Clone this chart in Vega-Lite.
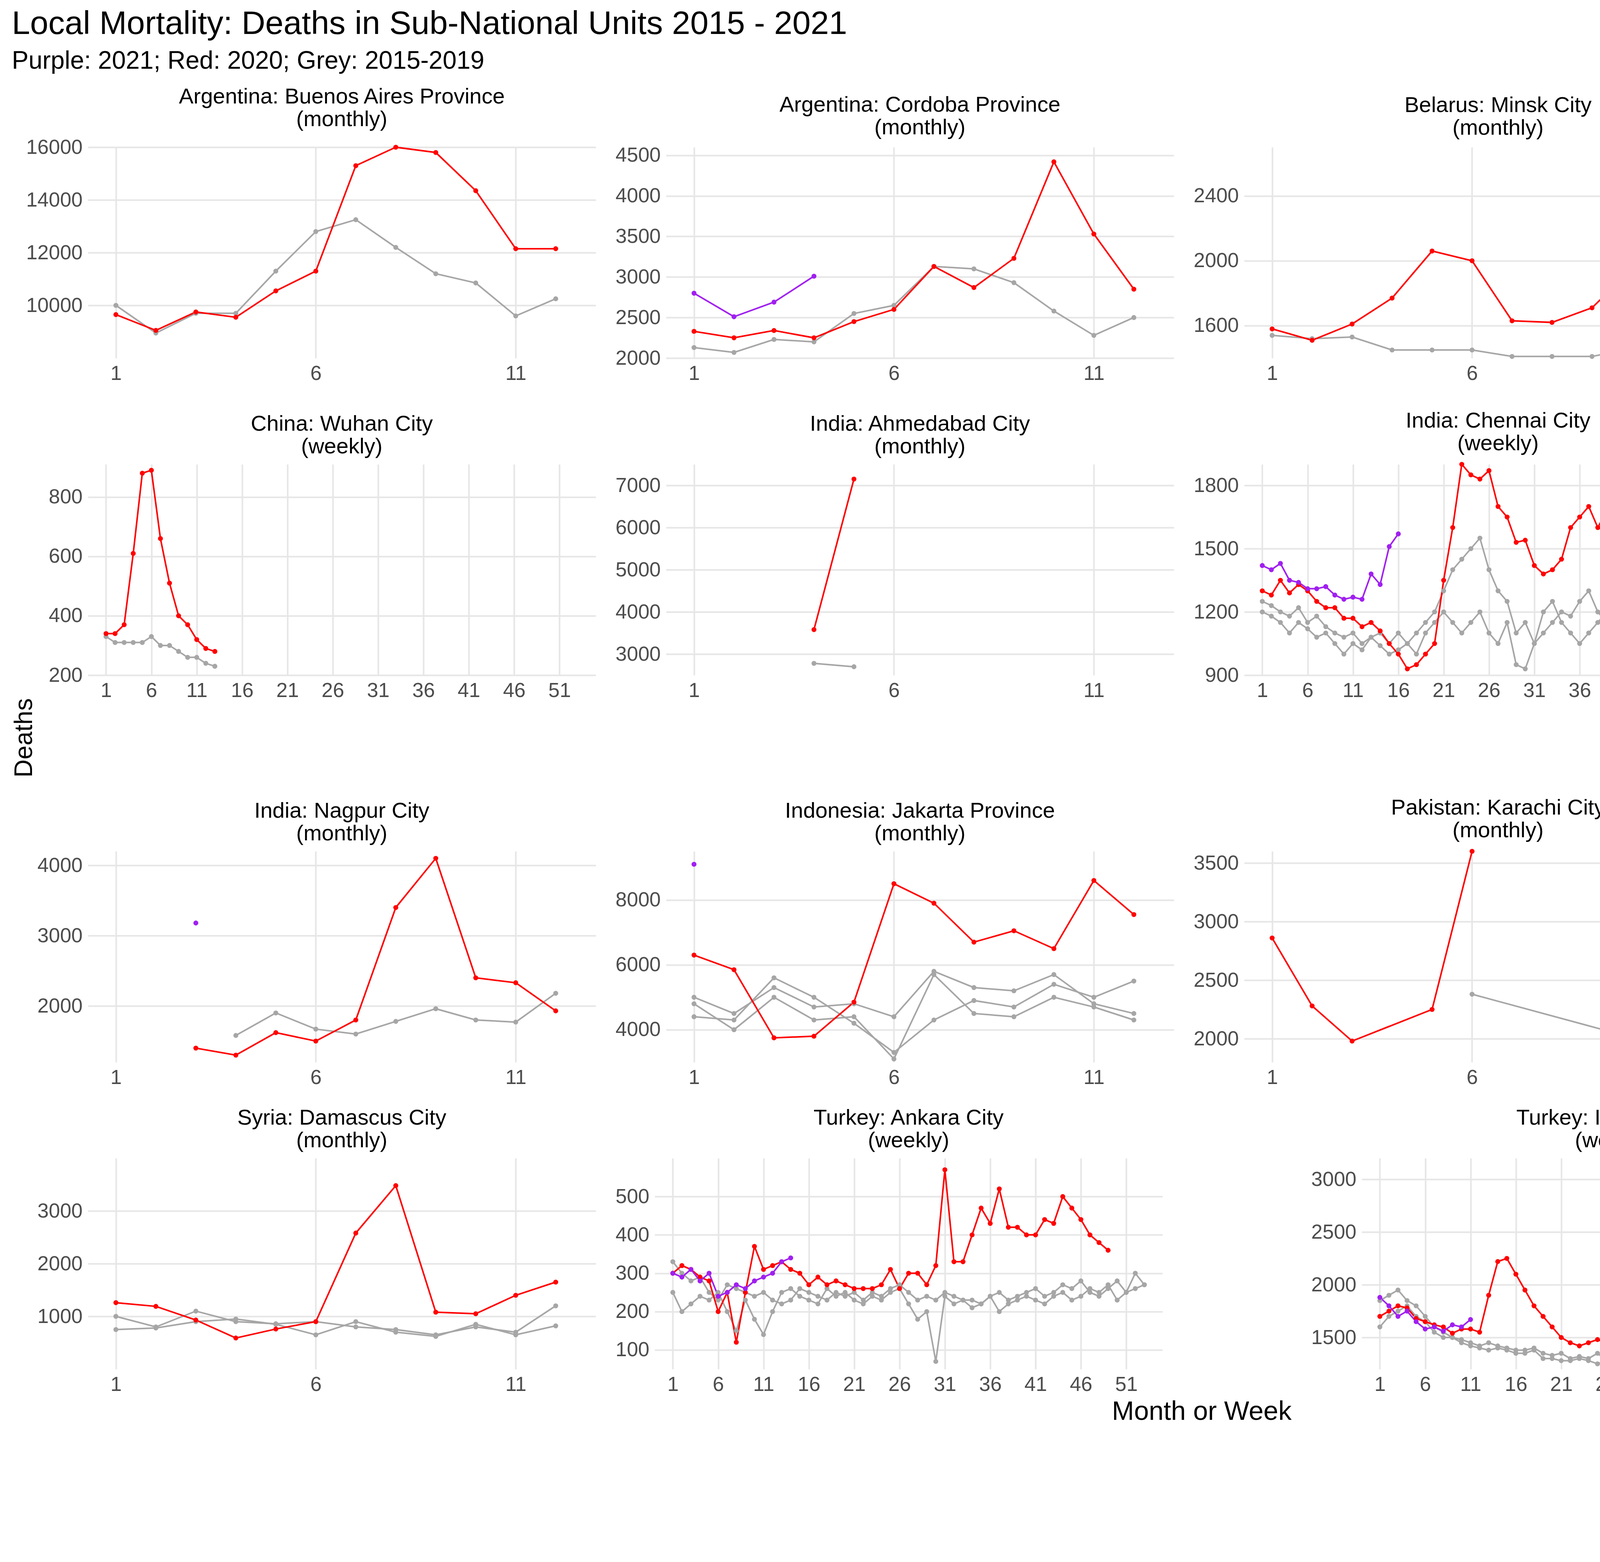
{
"$schema":"https://vega.github.io/schema/vega-lite/v6.json",
"background":"white",
"padding":{"left":30,"top":20,"right":30,"bottom":20},
"title":{"text":"Local Mortality: Deaths in Sub-National Units 2015 - 2021","subtitle":"Purple: 2021; Red: 2020; Grey: 2015-2019","anchor":"start","fontSize":84,"subtitleFontSize":64,"font":"Liberation Sans","subtitleFont":"Liberation Sans","fontWeight":"normal","subtitlePadding":20,"offset":30},
"config":{"font":"Liberation Sans","view":{"stroke":null},
 "axis":{"labelFontSize":52,"labelColor":"#4d4d4d","domain":false,"ticks":false,"gridColor":"#e6e6e6","gridWidth":4,"labelPadding":14,"title":null,"format":"d"},
 "title":{"fontSize":56,"fontWeight":"normal","offset":16},
 "concat":{"spacing":50}},
"datasets":{"d":[
{"p":1,"g":"a","x":1,"y":10000},{"p":1,"g":"a","x":2,"y":8950},{"p":1,"g":"a","x":3,"y":9700},{"p":1,"g":"a","x":4,"y":9700},{"p":1,"g":"a","x":5,"y":11300},{"p":1,"g":"a","x":6,"y":12800},{"p":1,"g":"a","x":7,"y":13250},{"p":1,"g":"a","x":8,"y":12200},{"p":1,"g":"a","x":9,"y":11200},{"p":1,"g":"a","x":10,"y":10850},{"p":1,"g":"a","x":11,"y":9600},{"p":1,"g":"a","x":12,"y":10250},
{"p":1,"g":"r","x":1,"y":9650},{"p":1,"g":"r","x":2,"y":9050},{"p":1,"g":"r","x":3,"y":9750},{"p":1,"g":"r","x":4,"y":9550},{"p":1,"g":"r","x":5,"y":10550},{"p":1,"g":"r","x":6,"y":11300},{"p":1,"g":"r","x":7,"y":15300},{"p":1,"g":"r","x":8,"y":16000},{"p":1,"g":"r","x":9,"y":15800},{"p":1,"g":"r","x":10,"y":14350},{"p":1,"g":"r","x":11,"y":12150},{"p":1,"g":"r","x":12,"y":12150},
{"p":2,"g":"a","x":1,"y":2130},{"p":2,"g":"a","x":2,"y":2070},{"p":2,"g":"a","x":3,"y":2230},{"p":2,"g":"a","x":4,"y":2200},{"p":2,"g":"a","x":5,"y":2550},{"p":2,"g":"a","x":6,"y":2650},{"p":2,"g":"a","x":7,"y":3130},{"p":2,"g":"a","x":8,"y":3100},{"p":2,"g":"a","x":9,"y":2930},{"p":2,"g":"a","x":10,"y":2580},{"p":2,"g":"a","x":11,"y":2280},{"p":2,"g":"a","x":12,"y":2500},
{"p":2,"g":"r","x":1,"y":2330},{"p":2,"g":"r","x":2,"y":2250},{"p":2,"g":"r","x":3,"y":2340},{"p":2,"g":"r","x":4,"y":2250},{"p":2,"g":"r","x":5,"y":2450},{"p":2,"g":"r","x":6,"y":2600},{"p":2,"g":"r","x":7,"y":3130},{"p":2,"g":"r","x":8,"y":2870},{"p":2,"g":"r","x":9,"y":3230},{"p":2,"g":"r","x":10,"y":4420},{"p":2,"g":"r","x":11,"y":3530},{"p":2,"g":"r","x":12,"y":2850},
{"p":2,"g":"u","x":1,"y":2800},{"p":2,"g":"u","x":2,"y":2510},{"p":2,"g":"u","x":3,"y":2690},{"p":2,"g":"u","x":4,"y":3010},
{"p":3,"g":"a","x":1,"y":1540},{"p":3,"g":"a","x":2,"y":1520},{"p":3,"g":"a","x":3,"y":1530},{"p":3,"g":"a","x":4,"y":1450},{"p":3,"g":"a","x":5,"y":1450},{"p":3,"g":"a","x":6,"y":1450},{"p":3,"g":"a","x":7,"y":1410},{"p":3,"g":"a","x":8,"y":1410},{"p":3,"g":"a","x":9,"y":1410},{"p":3,"g":"a","x":10,"y":1460},{"p":3,"g":"a","x":11,"y":1460},{"p":3,"g":"a","x":12,"y":1460},
{"p":3,"g":"r","x":1,"y":1580},{"p":3,"g":"r","x":2,"y":1510},{"p":3,"g":"r","x":3,"y":1610},{"p":3,"g":"r","x":4,"y":1770},{"p":3,"g":"r","x":5,"y":2060},{"p":3,"g":"r","x":6,"y":2000},{"p":3,"g":"r","x":7,"y":1630},{"p":3,"g":"r","x":8,"y":1620},{"p":3,"g":"r","x":9,"y":1710},{"p":3,"g":"r","x":10,"y":1950},{"p":3,"g":"r","x":11,"y":2340},{"p":3,"g":"r","x":12,"y":2690},
{"p":4,"g":"a","x":1,"y":70},{"p":4,"g":"a","x":2,"y":100},{"p":4,"g":"a","x":3,"y":78},{"p":4,"g":"a","x":4,"y":85},{"p":4,"g":"a","x":5,"y":92},{"p":4,"g":"a","x":6,"y":100},{"p":4,"g":"a","x":7,"y":80},{"p":4,"g":"a","x":8,"y":90},{"p":4,"g":"a","x":9,"y":88},{"p":4,"g":"a","x":10,"y":85},{"p":4,"g":"a","x":11,"y":113},{"p":4,"g":"a","x":12,"y":73},{"p":4,"g":"a","x":13,"y":90},{"p":4,"g":"a","x":14,"y":93},{"p":4,"g":"a","x":15,"y":70},{"p":4,"g":"a","x":16,"y":80},{"p":4,"g":"a","x":17,"y":90},{"p":4,"g":"a","x":18,"y":88},{"p":4,"g":"a","x":19,"y":80},{"p":4,"g":"a","x":20,"y":92},{"p":4,"g":"a","x":21,"y":75},{"p":4,"g":"a","x":22,"y":85},{"p":4,"g":"a","x":23,"y":88},{"p":4,"g":"a","x":24,"y":90},{"p":4,"g":"a","x":25,"y":72},{"p":4,"g":"a","x":26,"y":78},{"p":4,"g":"a","x":27,"y":90},{"p":4,"g":"a","x":28,"y":85},{"p":4,"g":"a","x":29,"y":70},{"p":4,"g":"a","x":30,"y":85},{"p":4,"g":"a","x":31,"y":75},{"p":4,"g":"a","x":32,"y":80},{"p":4,"g":"a","x":33,"y":93},{"p":4,"g":"a","x":34,"y":78},{"p":4,"g":"a","x":35,"y":88},{"p":4,"g":"a","x":36,"y":70},{"p":4,"g":"a","x":37,"y":75},{"p":4,"g":"a","x":38,"y":80},{"p":4,"g":"a","x":39,"y":78},{"p":4,"g":"a","x":40,"y":88},{"p":4,"g":"a","x":41,"y":80},{"p":4,"g":"a","x":42,"y":78},{"p":4,"g":"a","x":43,"y":82},{"p":4,"g":"a","x":44,"y":85},{"p":4,"g":"a","x":45,"y":75},{"p":4,"g":"a","x":46,"y":88},{"p":4,"g":"a","x":47,"y":90},{"p":4,"g":"a","x":48,"y":88},{"p":4,"g":"a","x":49,"y":87},
{"p":4,"g":"r","x":1,"y":88},{"p":4,"g":"r","x":2,"y":93},{"p":4,"g":"r","x":3,"y":77},{"p":4,"g":"r","x":4,"y":85},{"p":4,"g":"r","x":5,"y":80},{"p":4,"g":"r","x":6,"y":80},{"p":4,"g":"r","x":7,"y":87},{"p":4,"g":"r","x":8,"y":88},{"p":4,"g":"r","x":9,"y":90},{"p":4,"g":"r","x":10,"y":85},{"p":4,"g":"r","x":11,"y":73},{"p":4,"g":"r","x":12,"y":75},{"p":4,"g":"r","x":13,"y":88},{"p":4,"g":"r","x":14,"y":80},{"p":4,"g":"r","x":15,"y":63},{"p":4,"g":"r","x":16,"y":78},{"p":4,"g":"r","x":17,"y":113},{"p":4,"g":"r","x":18,"y":73},{"p":4,"g":"r","x":19,"y":80},{"p":4,"g":"r","x":20,"y":95},{"p":4,"g":"r","x":21,"y":133},{"p":4,"g":"r","x":22,"y":133},{"p":4,"g":"r","x":23,"y":113},{"p":4,"g":"r","x":24,"y":103},{"p":4,"g":"r","x":25,"y":93},{"p":4,"g":"r","x":26,"y":95},{"p":4,"g":"r","x":27,"y":88},{"p":4,"g":"r","x":28,"y":93},{"p":4,"g":"r","x":29,"y":75},{"p":4,"g":"r","x":30,"y":90},{"p":4,"g":"r","x":31,"y":98},{"p":4,"g":"r","x":32,"y":75},{"p":4,"g":"r","x":33,"y":100},{"p":4,"g":"r","x":34,"y":115},{"p":4,"g":"r","x":35,"y":90},{"p":4,"g":"r","x":36,"y":83},{"p":4,"g":"r","x":37,"y":105},{"p":4,"g":"r","x":38,"y":100},{"p":4,"g":"r","x":39,"y":108},{"p":4,"g":"r","x":40,"y":97},{"p":4,"g":"r","x":41,"y":140},{"p":4,"g":"r","x":42,"y":122},{"p":4,"g":"r","x":43,"y":148},{"p":4,"g":"r","x":44,"y":163},{"p":4,"g":"r","x":45,"y":143},
{"p":5,"g":"a","x":1,"y":330},{"p":5,"g":"a","x":2,"y":310},{"p":5,"g":"a","x":3,"y":310},{"p":5,"g":"a","x":4,"y":310},{"p":5,"g":"a","x":5,"y":310},{"p":5,"g":"a","x":6,"y":330},{"p":5,"g":"a","x":7,"y":300},{"p":5,"g":"a","x":8,"y":300},{"p":5,"g":"a","x":9,"y":280},{"p":5,"g":"a","x":10,"y":260},{"p":5,"g":"a","x":11,"y":260},{"p":5,"g":"a","x":12,"y":240},{"p":5,"g":"a","x":13,"y":230},
{"p":5,"g":"r","x":1,"y":340},{"p":5,"g":"r","x":2,"y":340},{"p":5,"g":"r","x":3,"y":370},{"p":5,"g":"r","x":4,"y":610},{"p":5,"g":"r","x":5,"y":880},{"p":5,"g":"r","x":6,"y":890},{"p":5,"g":"r","x":7,"y":660},{"p":5,"g":"r","x":8,"y":510},{"p":5,"g":"r","x":9,"y":400},{"p":5,"g":"r","x":10,"y":370},{"p":5,"g":"r","x":11,"y":320},{"p":5,"g":"r","x":12,"y":290},{"p":5,"g":"r","x":13,"y":280},
{"p":6,"g":"a","x":4,"y":2780},{"p":6,"g":"a","x":5,"y":2700},
{"p":6,"g":"r","x":4,"y":3580},{"p":6,"g":"r","x":5,"y":7150},
{"p":7,"g":"a","x":1,"y":1250},{"p":7,"g":"a","x":2,"y":1230},{"p":7,"g":"a","x":3,"y":1200},{"p":7,"g":"a","x":4,"y":1180},{"p":7,"g":"a","x":5,"y":1220},{"p":7,"g":"a","x":6,"y":1150},{"p":7,"g":"a","x":7,"y":1180},{"p":7,"g":"a","x":8,"y":1130},{"p":7,"g":"a","x":9,"y":1100},{"p":7,"g":"a","x":10,"y":1080},{"p":7,"g":"a","x":11,"y":1100},{"p":7,"g":"a","x":12,"y":1050},{"p":7,"g":"a","x":13,"y":1080},{"p":7,"g":"a","x":14,"y":1040},{"p":7,"g":"a","x":15,"y":1000},{"p":7,"g":"a","x":16,"y":1020},{"p":7,"g":"a","x":17,"y":1050},{"p":7,"g":"a","x":18,"y":1100},{"p":7,"g":"a","x":19,"y":1150},{"p":7,"g":"a","x":20,"y":1200},{"p":7,"g":"a","x":21,"y":1300},{"p":7,"g":"a","x":22,"y":1400},{"p":7,"g":"a","x":23,"y":1450},{"p":7,"g":"a","x":24,"y":1500},{"p":7,"g":"a","x":25,"y":1550},{"p":7,"g":"a","x":26,"y":1400},{"p":7,"g":"a","x":27,"y":1300},{"p":7,"g":"a","x":28,"y":1250},{"p":7,"g":"a","x":29,"y":1100},{"p":7,"g":"a","x":30,"y":1150},{"p":7,"g":"a","x":31,"y":1050},{"p":7,"g":"a","x":32,"y":1100},{"p":7,"g":"a","x":33,"y":1150},{"p":7,"g":"a","x":34,"y":1200},{"p":7,"g":"a","x":35,"y":1180},{"p":7,"g":"a","x":36,"y":1250},{"p":7,"g":"a","x":37,"y":1300},{"p":7,"g":"a","x":38,"y":1200},{"p":7,"g":"a","x":39,"y":1150},{"p":7,"g":"a","x":40,"y":1250},{"p":7,"g":"a","x":41,"y":1300},{"p":7,"g":"a","x":42,"y":1200},{"p":7,"g":"a","x":43,"y":1100},{"p":7,"g":"a","x":44,"y":1150},{"p":7,"g":"a","x":45,"y":1200},{"p":7,"g":"a","x":46,"y":1250},{"p":7,"g":"a","x":47,"y":1300},{"p":7,"g":"a","x":48,"y":1200},{"p":7,"g":"a","x":49,"y":1250},{"p":7,"g":"a","x":50,"y":1300},{"p":7,"g":"a","x":51,"y":1350},{"p":7,"g":"a","x":52,"y":1300},{"p":7,"g":"a","x":53,"y":1330},
{"p":7,"g":"b","x":1,"y":1200},{"p":7,"g":"b","x":2,"y":1180},{"p":7,"g":"b","x":3,"y":1150},{"p":7,"g":"b","x":4,"y":1100},{"p":7,"g":"b","x":5,"y":1150},{"p":7,"g":"b","x":6,"y":1120},{"p":7,"g":"b","x":7,"y":1080},{"p":7,"g":"b","x":8,"y":1100},{"p":7,"g":"b","x":9,"y":1050},{"p":7,"g":"b","x":10,"y":1000},{"p":7,"g":"b","x":11,"y":1050},{"p":7,"g":"b","x":12,"y":1020},{"p":7,"g":"b","x":13,"y":1080},{"p":7,"g":"b","x":14,"y":1100},{"p":7,"g":"b","x":15,"y":1050},{"p":7,"g":"b","x":16,"y":1100},{"p":7,"g":"b","x":17,"y":1050},{"p":7,"g":"b","x":18,"y":1000},{"p":7,"g":"b","x":19,"y":1100},{"p":7,"g":"b","x":20,"y":1150},{"p":7,"g":"b","x":21,"y":1200},{"p":7,"g":"b","x":22,"y":1150},{"p":7,"g":"b","x":23,"y":1100},{"p":7,"g":"b","x":24,"y":1150},{"p":7,"g":"b","x":25,"y":1200},{"p":7,"g":"b","x":26,"y":1100},{"p":7,"g":"b","x":27,"y":1050},{"p":7,"g":"b","x":28,"y":1150},{"p":7,"g":"b","x":29,"y":950},{"p":7,"g":"b","x":30,"y":930},{"p":7,"g":"b","x":31,"y":1050},{"p":7,"g":"b","x":32,"y":1200},{"p":7,"g":"b","x":33,"y":1250},{"p":7,"g":"b","x":34,"y":1150},{"p":7,"g":"b","x":35,"y":1100},{"p":7,"g":"b","x":36,"y":1050},{"p":7,"g":"b","x":37,"y":1100},{"p":7,"g":"b","x":38,"y":1150},{"p":7,"g":"b","x":39,"y":1200},{"p":7,"g":"b","x":40,"y":1100},{"p":7,"g":"b","x":41,"y":1050},{"p":7,"g":"b","x":42,"y":1000},{"p":7,"g":"b","x":43,"y":1100},{"p":7,"g":"b","x":44,"y":1150},{"p":7,"g":"b","x":45,"y":1200},{"p":7,"g":"b","x":46,"y":1250},{"p":7,"g":"b","x":47,"y":1200},{"p":7,"g":"b","x":48,"y":1150},{"p":7,"g":"b","x":49,"y":1250},{"p":7,"g":"b","x":50,"y":1300},{"p":7,"g":"b","x":51,"y":1280},{"p":7,"g":"b","x":52,"y":1300},{"p":7,"g":"b","x":53,"y":1350},
{"p":7,"g":"r","x":1,"y":1300},{"p":7,"g":"r","x":2,"y":1280},{"p":7,"g":"r","x":3,"y":1350},{"p":7,"g":"r","x":4,"y":1290},{"p":7,"g":"r","x":5,"y":1330},{"p":7,"g":"r","x":6,"y":1300},{"p":7,"g":"r","x":7,"y":1250},{"p":7,"g":"r","x":8,"y":1220},{"p":7,"g":"r","x":9,"y":1220},{"p":7,"g":"r","x":10,"y":1170},{"p":7,"g":"r","x":11,"y":1170},{"p":7,"g":"r","x":12,"y":1130},{"p":7,"g":"r","x":13,"y":1150},{"p":7,"g":"r","x":14,"y":1110},{"p":7,"g":"r","x":15,"y":1050},{"p":7,"g":"r","x":16,"y":1000},{"p":7,"g":"r","x":17,"y":930},{"p":7,"g":"r","x":18,"y":950},{"p":7,"g":"r","x":19,"y":1000},{"p":7,"g":"r","x":20,"y":1050},{"p":7,"g":"r","x":21,"y":1350},{"p":7,"g":"r","x":22,"y":1600},{"p":7,"g":"r","x":23,"y":1900},{"p":7,"g":"r","x":24,"y":1850},{"p":7,"g":"r","x":25,"y":1830},{"p":7,"g":"r","x":26,"y":1870},{"p":7,"g":"r","x":27,"y":1700},{"p":7,"g":"r","x":28,"y":1650},{"p":7,"g":"r","x":29,"y":1530},{"p":7,"g":"r","x":30,"y":1540},{"p":7,"g":"r","x":31,"y":1420},{"p":7,"g":"r","x":32,"y":1380},{"p":7,"g":"r","x":33,"y":1400},{"p":7,"g":"r","x":34,"y":1450},{"p":7,"g":"r","x":35,"y":1600},{"p":7,"g":"r","x":36,"y":1650},{"p":7,"g":"r","x":37,"y":1700},{"p":7,"g":"r","x":38,"y":1600},{"p":7,"g":"r","x":39,"y":1680},{"p":7,"g":"r","x":40,"y":1620},{"p":7,"g":"r","x":41,"y":1600},{"p":7,"g":"r","x":42,"y":1560},{"p":7,"g":"r","x":43,"y":1630},{"p":7,"g":"r","x":44,"y":1550},{"p":7,"g":"r","x":45,"y":1400},{"p":7,"g":"r","x":46,"y":1380},{"p":7,"g":"r","x":47,"y":1430},{"p":7,"g":"r","x":48,"y":1450},{"p":7,"g":"r","x":49,"y":1520},{"p":7,"g":"r","x":50,"y":1560},{"p":7,"g":"r","x":51,"y":1580},{"p":7,"g":"r","x":52,"y":1530},{"p":7,"g":"r","x":53,"y":1430},
{"p":7,"g":"u","x":1,"y":1420},{"p":7,"g":"u","x":2,"y":1400},{"p":7,"g":"u","x":3,"y":1430},{"p":7,"g":"u","x":4,"y":1350},{"p":7,"g":"u","x":5,"y":1340},{"p":7,"g":"u","x":6,"y":1310},{"p":7,"g":"u","x":7,"y":1310},{"p":7,"g":"u","x":8,"y":1320},{"p":7,"g":"u","x":9,"y":1280},{"p":7,"g":"u","x":10,"y":1260},{"p":7,"g":"u","x":11,"y":1270},{"p":7,"g":"u","x":12,"y":1260},{"p":7,"g":"u","x":13,"y":1380},{"p":7,"g":"u","x":14,"y":1330},{"p":7,"g":"u","x":15,"y":1510},{"p":7,"g":"u","x":16,"y":1570},
{"p":8,"g":"a","x":1,"y":8200},{"p":8,"g":"a","x":2,"y":7700},{"p":8,"g":"a","x":3,"y":7000},{"p":8,"g":"a","x":4,"y":7300},{"p":8,"g":"a","x":5,"y":7350},{"p":8,"g":"a","x":6,"y":6800},{"p":8,"g":"a","x":7,"y":7900},{"p":8,"g":"a","x":8,"y":8150},{"p":8,"g":"a","x":9,"y":7950},
{"p":8,"g":"b","x":1,"y":8100},{"p":8,"g":"b","x":2,"y":7300},{"p":8,"g":"b","x":3,"y":7800},{"p":8,"g":"b","x":4,"y":6400},{"p":8,"g":"b","x":5,"y":7400},{"p":8,"g":"b","x":6,"y":6700},{"p":8,"g":"b","x":7,"y":7350},{"p":8,"g":"b","x":8,"y":7400},{"p":8,"g":"b","x":9,"y":7300},
{"p":8,"g":"r","x":1,"y":8000},{"p":8,"g":"r","x":2,"y":7400},{"p":8,"g":"r","x":3,"y":7050},{"p":8,"g":"r","x":4,"y":7600},{"p":8,"g":"r","x":5,"y":14600},{"p":8,"g":"r","x":6,"y":11900},{"p":8,"g":"r","x":7,"y":9950},{"p":8,"g":"r","x":8,"y":9700},{"p":8,"g":"r","x":9,"y":9950},{"p":8,"g":"r","x":10,"y":9700},{"p":8,"g":"r","x":11,"y":7600},{"p":8,"g":"r","x":12,"y":8250},
{"p":9,"g":"a","x":4,"y":1580},{"p":9,"g":"a","x":5,"y":1900},{"p":9,"g":"a","x":6,"y":1670},{"p":9,"g":"a","x":7,"y":1600},{"p":9,"g":"a","x":8,"y":1780},{"p":9,"g":"a","x":9,"y":1960},{"p":9,"g":"a","x":10,"y":1800},{"p":9,"g":"a","x":11,"y":1770},{"p":9,"g":"a","x":12,"y":2180},
{"p":9,"g":"r","x":3,"y":1400},{"p":9,"g":"r","x":4,"y":1300},{"p":9,"g":"r","x":5,"y":1620},{"p":9,"g":"r","x":6,"y":1500},{"p":9,"g":"r","x":7,"y":1800},{"p":9,"g":"r","x":8,"y":3400},{"p":9,"g":"r","x":9,"y":4100},{"p":9,"g":"r","x":10,"y":2400},{"p":9,"g":"r","x":11,"y":2330},{"p":9,"g":"r","x":12,"y":1930},
{"p":9,"g":"u","x":3,"y":3180},
{"p":10,"g":"a","x":1,"y":5000},{"p":10,"g":"a","x":2,"y":4500},{"p":10,"g":"a","x":3,"y":5300},{"p":10,"g":"a","x":4,"y":4700},{"p":10,"g":"a","x":5,"y":4800},{"p":10,"g":"a","x":6,"y":4400},{"p":10,"g":"a","x":7,"y":5800},{"p":10,"g":"a","x":8,"y":5300},{"p":10,"g":"a","x":9,"y":5200},{"p":10,"g":"a","x":10,"y":5700},{"p":10,"g":"a","x":11,"y":4800},{"p":10,"g":"a","x":12,"y":4500},
{"p":10,"g":"b","x":1,"y":4800},{"p":10,"g":"b","x":2,"y":4000},{"p":10,"g":"b","x":3,"y":5000},{"p":10,"g":"b","x":4,"y":4300},{"p":10,"g":"b","x":5,"y":4400},{"p":10,"g":"b","x":6,"y":3100},{"p":10,"g":"b","x":7,"y":5700},{"p":10,"g":"b","x":8,"y":4500},{"p":10,"g":"b","x":9,"y":4400},{"p":10,"g":"b","x":10,"y":5000},{"p":10,"g":"b","x":11,"y":4700},{"p":10,"g":"b","x":12,"y":4300},
{"p":10,"g":"c","x":1,"y":4400},{"p":10,"g":"c","x":2,"y":4300},{"p":10,"g":"c","x":3,"y":5600},{"p":10,"g":"c","x":4,"y":5000},{"p":10,"g":"c","x":5,"y":4200},{"p":10,"g":"c","x":6,"y":3300},{"p":10,"g":"c","x":7,"y":4300},{"p":10,"g":"c","x":8,"y":4900},{"p":10,"g":"c","x":9,"y":4700},{"p":10,"g":"c","x":10,"y":5400},{"p":10,"g":"c","x":11,"y":5000},{"p":10,"g":"c","x":12,"y":5500},
{"p":10,"g":"r","x":1,"y":6300},{"p":10,"g":"r","x":2,"y":5850},{"p":10,"g":"r","x":3,"y":3750},{"p":10,"g":"r","x":4,"y":3800},{"p":10,"g":"r","x":5,"y":4850},{"p":10,"g":"r","x":6,"y":8500},{"p":10,"g":"r","x":7,"y":7900},{"p":10,"g":"r","x":8,"y":6700},{"p":10,"g":"r","x":9,"y":7050},{"p":10,"g":"r","x":10,"y":6500},{"p":10,"g":"r","x":11,"y":8600},{"p":10,"g":"r","x":12,"y":7550},
{"p":10,"g":"u","x":1,"y":9100},
{"p":11,"g":"a","x":6,"y":2380},{"p":11,"g":"a","x":10,"y":2010},{"p":11,"g":"a","x":11,"y":1800},{"p":11,"g":"a","x":12,"y":2300},
{"p":11,"g":"r","x":1,"y":2860},{"p":11,"g":"r","x":2,"y":2280},{"p":11,"g":"r","x":3,"y":1980},{"p":11,"g":"r","x":5,"y":2250},{"p":11,"g":"r","x":6,"y":3600},
{"p":12,"g":"a","x":4,"y":510},{"p":12,"g":"a","x":5,"y":710},
{"p":12,"g":"r","x":4,"y":1440},{"p":12,"g":"r","x":5,"y":2230},
{"p":13,"g":"a","x":1,"y":1000},{"p":13,"g":"a","x":2,"y":800},{"p":13,"g":"a","x":3,"y":1100},{"p":13,"g":"a","x":4,"y":900},{"p":13,"g":"a","x":5,"y":860},{"p":13,"g":"a","x":6,"y":900},{"p":13,"g":"a","x":7,"y":800},{"p":13,"g":"a","x":8,"y":750},{"p":13,"g":"a","x":9,"y":650},{"p":13,"g":"a","x":10,"y":800},{"p":13,"g":"a","x":11,"y":700},{"p":13,"g":"a","x":12,"y":1200},
{"p":13,"g":"b","x":1,"y":750},{"p":13,"g":"b","x":2,"y":780},{"p":13,"g":"b","x":3,"y":900},{"p":13,"g":"b","x":4,"y":950},{"p":13,"g":"b","x":5,"y":850},{"p":13,"g":"b","x":6,"y":650},{"p":13,"g":"b","x":7,"y":900},{"p":13,"g":"b","x":8,"y":700},{"p":13,"g":"b","x":9,"y":620},{"p":13,"g":"b","x":10,"y":850},{"p":13,"g":"b","x":11,"y":650},{"p":13,"g":"b","x":12,"y":820},
{"p":13,"g":"r","x":1,"y":1260},{"p":13,"g":"r","x":2,"y":1190},{"p":13,"g":"r","x":3,"y":930},{"p":13,"g":"r","x":4,"y":590},{"p":13,"g":"r","x":5,"y":760},{"p":13,"g":"r","x":6,"y":900},{"p":13,"g":"r","x":7,"y":2580},{"p":13,"g":"r","x":8,"y":3480},{"p":13,"g":"r","x":9,"y":1080},{"p":13,"g":"r","x":10,"y":1050},{"p":13,"g":"r","x":11,"y":1400},{"p":13,"g":"r","x":12,"y":1650},
{"p":14,"g":"a","x":1,"y":330},{"p":14,"g":"a","x":2,"y":300},{"p":14,"g":"a","x":3,"y":280},{"p":14,"g":"a","x":4,"y":290},{"p":14,"g":"a","x":5,"y":250},{"p":14,"g":"a","x":6,"y":230},{"p":14,"g":"a","x":7,"y":270},{"p":14,"g":"a","x":8,"y":260},{"p":14,"g":"a","x":9,"y":250},{"p":14,"g":"a","x":10,"y":240},{"p":14,"g":"a","x":11,"y":250},{"p":14,"g":"a","x":12,"y":230},{"p":14,"g":"a","x":13,"y":220},{"p":14,"g":"a","x":14,"y":230},{"p":14,"g":"a","x":15,"y":260},{"p":14,"g":"a","x":16,"y":250},{"p":14,"g":"a","x":17,"y":240},{"p":14,"g":"a","x":18,"y":230},{"p":14,"g":"a","x":19,"y":250},{"p":14,"g":"a","x":20,"y":240},{"p":14,"g":"a","x":21,"y":250},{"p":14,"g":"a","x":22,"y":230},{"p":14,"g":"a","x":23,"y":250},{"p":14,"g":"a","x":24,"y":240},{"p":14,"g":"a","x":25,"y":260},{"p":14,"g":"a","x":26,"y":270},{"p":14,"g":"a","x":27,"y":250},{"p":14,"g":"a","x":28,"y":230},{"p":14,"g":"a","x":29,"y":240},{"p":14,"g":"a","x":30,"y":230},{"p":14,"g":"a","x":31,"y":250},{"p":14,"g":"a","x":32,"y":240},{"p":14,"g":"a","x":33,"y":230},{"p":14,"g":"a","x":34,"y":230},{"p":14,"g":"a","x":35,"y":220},{"p":14,"g":"a","x":36,"y":240},{"p":14,"g":"a","x":37,"y":250},{"p":14,"g":"a","x":38,"y":230},{"p":14,"g":"a","x":39,"y":240},{"p":14,"g":"a","x":40,"y":250},{"p":14,"g":"a","x":41,"y":260},{"p":14,"g":"a","x":42,"y":240},{"p":14,"g":"a","x":43,"y":250},{"p":14,"g":"a","x":44,"y":270},{"p":14,"g":"a","x":45,"y":260},{"p":14,"g":"a","x":46,"y":280},{"p":14,"g":"a","x":47,"y":250},{"p":14,"g":"a","x":48,"y":240},{"p":14,"g":"a","x":49,"y":260},{"p":14,"g":"a","x":50,"y":280},{"p":14,"g":"a","x":51,"y":250},{"p":14,"g":"a","x":52,"y":260},{"p":14,"g":"a","x":53,"y":270},
{"p":14,"g":"b","x":1,"y":250},{"p":14,"g":"b","x":2,"y":200},{"p":14,"g":"b","x":3,"y":220},{"p":14,"g":"b","x":4,"y":240},{"p":14,"g":"b","x":5,"y":230},{"p":14,"g":"b","x":6,"y":250},{"p":14,"g":"b","x":7,"y":200},{"p":14,"g":"b","x":8,"y":150},{"p":14,"g":"b","x":9,"y":230},{"p":14,"g":"b","x":10,"y":180},{"p":14,"g":"b","x":11,"y":140},{"p":14,"g":"b","x":12,"y":200},{"p":14,"g":"b","x":13,"y":250},{"p":14,"g":"b","x":14,"y":260},{"p":14,"g":"b","x":15,"y":240},{"p":14,"g":"b","x":16,"y":230},{"p":14,"g":"b","x":17,"y":220},{"p":14,"g":"b","x":18,"y":260},{"p":14,"g":"b","x":19,"y":240},{"p":14,"g":"b","x":20,"y":250},{"p":14,"g":"b","x":21,"y":230},{"p":14,"g":"b","x":22,"y":220},{"p":14,"g":"b","x":23,"y":240},{"p":14,"g":"b","x":24,"y":230},{"p":14,"g":"b","x":25,"y":250},{"p":14,"g":"b","x":26,"y":260},{"p":14,"g":"b","x":27,"y":220},{"p":14,"g":"b","x":28,"y":180},{"p":14,"g":"b","x":29,"y":200},{"p":14,"g":"b","x":30,"y":70},{"p":14,"g":"b","x":31,"y":240},{"p":14,"g":"b","x":32,"y":220},{"p":14,"g":"b","x":33,"y":230},{"p":14,"g":"b","x":34,"y":210},{"p":14,"g":"b","x":35,"y":220},{"p":14,"g":"b","x":36,"y":240},{"p":14,"g":"b","x":37,"y":200},{"p":14,"g":"b","x":38,"y":220},{"p":14,"g":"b","x":39,"y":230},{"p":14,"g":"b","x":40,"y":240},{"p":14,"g":"b","x":41,"y":230},{"p":14,"g":"b","x":42,"y":220},{"p":14,"g":"b","x":43,"y":240},{"p":14,"g":"b","x":44,"y":250},{"p":14,"g":"b","x":45,"y":230},{"p":14,"g":"b","x":46,"y":240},{"p":14,"g":"b","x":47,"y":260},{"p":14,"g":"b","x":48,"y":250},{"p":14,"g":"b","x":49,"y":270},{"p":14,"g":"b","x":50,"y":230},{"p":14,"g":"b","x":51,"y":250},{"p":14,"g":"b","x":52,"y":300},{"p":14,"g":"b","x":53,"y":270},
{"p":14,"g":"r","x":1,"y":300},{"p":14,"g":"r","x":2,"y":320},{"p":14,"g":"r","x":3,"y":310},{"p":14,"g":"r","x":4,"y":290},{"p":14,"g":"r","x":5,"y":280},{"p":14,"g":"r","x":6,"y":200},{"p":14,"g":"r","x":7,"y":250},{"p":14,"g":"r","x":8,"y":120},{"p":14,"g":"r","x":9,"y":250},{"p":14,"g":"r","x":10,"y":370},{"p":14,"g":"r","x":11,"y":310},{"p":14,"g":"r","x":12,"y":320},{"p":14,"g":"r","x":13,"y":330},{"p":14,"g":"r","x":14,"y":310},{"p":14,"g":"r","x":15,"y":300},{"p":14,"g":"r","x":16,"y":270},{"p":14,"g":"r","x":17,"y":290},{"p":14,"g":"r","x":18,"y":270},{"p":14,"g":"r","x":19,"y":280},{"p":14,"g":"r","x":20,"y":270},{"p":14,"g":"r","x":21,"y":260},{"p":14,"g":"r","x":22,"y":260},{"p":14,"g":"r","x":23,"y":260},{"p":14,"g":"r","x":24,"y":270},{"p":14,"g":"r","x":25,"y":310},{"p":14,"g":"r","x":26,"y":260},{"p":14,"g":"r","x":27,"y":300},{"p":14,"g":"r","x":28,"y":300},{"p":14,"g":"r","x":29,"y":270},{"p":14,"g":"r","x":30,"y":320},{"p":14,"g":"r","x":31,"y":570},{"p":14,"g":"r","x":32,"y":330},{"p":14,"g":"r","x":33,"y":330},{"p":14,"g":"r","x":34,"y":400},{"p":14,"g":"r","x":35,"y":470},{"p":14,"g":"r","x":36,"y":430},{"p":14,"g":"r","x":37,"y":520},{"p":14,"g":"r","x":38,"y":420},{"p":14,"g":"r","x":39,"y":420},{"p":14,"g":"r","x":40,"y":400},{"p":14,"g":"r","x":41,"y":400},{"p":14,"g":"r","x":42,"y":440},{"p":14,"g":"r","x":43,"y":430},{"p":14,"g":"r","x":44,"y":500},{"p":14,"g":"r","x":45,"y":470},{"p":14,"g":"r","x":46,"y":440},{"p":14,"g":"r","x":47,"y":400},{"p":14,"g":"r","x":48,"y":380},{"p":14,"g":"r","x":49,"y":360},
{"p":14,"g":"u","x":1,"y":300},{"p":14,"g":"u","x":2,"y":290},{"p":14,"g":"u","x":3,"y":310},{"p":14,"g":"u","x":4,"y":280},{"p":14,"g":"u","x":5,"y":300},{"p":14,"g":"u","x":6,"y":240},{"p":14,"g":"u","x":7,"y":250},{"p":14,"g":"u","x":8,"y":270},{"p":14,"g":"u","x":9,"y":260},{"p":14,"g":"u","x":10,"y":280},{"p":14,"g":"u","x":11,"y":290},{"p":14,"g":"u","x":12,"y":300},{"p":14,"g":"u","x":13,"y":330},{"p":14,"g":"u","x":14,"y":340},
{"p":15,"g":"a","x":1,"y":1850},{"p":15,"g":"a","x":2,"y":1900},{"p":15,"g":"a","x":3,"y":1950},{"p":15,"g":"a","x":4,"y":1850},{"p":15,"g":"a","x":5,"y":1800},{"p":15,"g":"a","x":6,"y":1700},{"p":15,"g":"a","x":7,"y":1600},{"p":15,"g":"a","x":8,"y":1550},{"p":15,"g":"a","x":9,"y":1500},{"p":15,"g":"a","x":10,"y":1480},{"p":15,"g":"a","x":11,"y":1450},{"p":15,"g":"a","x":12,"y":1420},{"p":15,"g":"a","x":13,"y":1450},{"p":15,"g":"a","x":14,"y":1420},{"p":15,"g":"a","x":15,"y":1400},{"p":15,"g":"a","x":16,"y":1380},{"p":15,"g":"a","x":17,"y":1380},{"p":15,"g":"a","x":18,"y":1400},{"p":15,"g":"a","x":19,"y":1350},{"p":15,"g":"a","x":20,"y":1330},{"p":15,"g":"a","x":21,"y":1350},{"p":15,"g":"a","x":22,"y":1300},{"p":15,"g":"a","x":23,"y":1320},{"p":15,"g":"a","x":24,"y":1300},{"p":15,"g":"a","x":25,"y":1350},{"p":15,"g":"a","x":26,"y":1280},{"p":15,"g":"a","x":27,"y":1300},{"p":15,"g":"a","x":28,"y":1250},{"p":15,"g":"a","x":29,"y":1300},{"p":15,"g":"a","x":30,"y":1280},{"p":15,"g":"a","x":31,"y":1300},{"p":15,"g":"a","x":32,"y":1320},{"p":15,"g":"a","x":33,"y":1300},{"p":15,"g":"a","x":34,"y":1280},{"p":15,"g":"a","x":35,"y":1250},{"p":15,"g":"a","x":36,"y":1260},{"p":15,"g":"a","x":37,"y":1280},{"p":15,"g":"a","x":38,"y":1300},{"p":15,"g":"a","x":39,"y":1320},{"p":15,"g":"a","x":40,"y":1300},{"p":15,"g":"a","x":41,"y":1350},{"p":15,"g":"a","x":42,"y":1400},{"p":15,"g":"a","x":43,"y":1380},{"p":15,"g":"a","x":44,"y":1420},{"p":15,"g":"a","x":45,"y":1400},{"p":15,"g":"a","x":46,"y":1450},{"p":15,"g":"a","x":47,"y":1480},{"p":15,"g":"a","x":48,"y":1500},{"p":15,"g":"a","x":49,"y":1450},{"p":15,"g":"a","x":50,"y":1500},{"p":15,"g":"a","x":51,"y":1450},{"p":15,"g":"a","x":52,"y":1550},{"p":15,"g":"a","x":53,"y":1600},
{"p":15,"g":"b","x":1,"y":1600},{"p":15,"g":"b","x":2,"y":1700},{"p":15,"g":"b","x":3,"y":1750},{"p":15,"g":"b","x":4,"y":1800},{"p":15,"g":"b","x":5,"y":1700},{"p":15,"g":"b","x":6,"y":1650},{"p":15,"g":"b","x":7,"y":1550},{"p":15,"g":"b","x":8,"y":1500},{"p":15,"g":"b","x":9,"y":1500},{"p":15,"g":"b","x":10,"y":1450},{"p":15,"g":"b","x":11,"y":1420},{"p":15,"g":"b","x":12,"y":1400},{"p":15,"g":"b","x":13,"y":1380},{"p":15,"g":"b","x":14,"y":1400},{"p":15,"g":"b","x":15,"y":1380},{"p":15,"g":"b","x":16,"y":1350},{"p":15,"g":"b","x":17,"y":1350},{"p":15,"g":"b","x":18,"y":1380},{"p":15,"g":"b","x":19,"y":1300},{"p":15,"g":"b","x":20,"y":1300},{"p":15,"g":"b","x":21,"y":1280},{"p":15,"g":"b","x":22,"y":1280},{"p":15,"g":"b","x":23,"y":1300},{"p":15,"g":"b","x":24,"y":1280},{"p":15,"g":"b","x":25,"y":1250},{"p":15,"g":"b","x":26,"y":1280},{"p":15,"g":"b","x":27,"y":1250},{"p":15,"g":"b","x":28,"y":1260},{"p":15,"g":"b","x":29,"y":1250},{"p":15,"g":"b","x":30,"y":1240},{"p":15,"g":"b","x":31,"y":1260},{"p":15,"g":"b","x":32,"y":1280},{"p":15,"g":"b","x":33,"y":1250},{"p":15,"g":"b","x":34,"y":1260},{"p":15,"g":"b","x":35,"y":1240},{"p":15,"g":"b","x":36,"y":1250},{"p":15,"g":"b","x":37,"y":1280},{"p":15,"g":"b","x":38,"y":1300},{"p":15,"g":"b","x":39,"y":1280},{"p":15,"g":"b","x":40,"y":1320},{"p":15,"g":"b","x":41,"y":1300},{"p":15,"g":"b","x":42,"y":1350},{"p":15,"g":"b","x":43,"y":1350},{"p":15,"g":"b","x":44,"y":1380},{"p":15,"g":"b","x":45,"y":1400},{"p":15,"g":"b","x":46,"y":1420},{"p":15,"g":"b","x":47,"y":1450},{"p":15,"g":"b","x":48,"y":1460},{"p":15,"g":"b","x":49,"y":1500},{"p":15,"g":"b","x":50,"y":1480},{"p":15,"g":"b","x":51,"y":1550},{"p":15,"g":"b","x":52,"y":1700},{"p":15,"g":"b","x":53,"y":1750},
{"p":15,"g":"r","x":1,"y":1700},{"p":15,"g":"r","x":2,"y":1750},{"p":15,"g":"r","x":3,"y":1800},{"p":15,"g":"r","x":4,"y":1780},{"p":15,"g":"r","x":5,"y":1680},{"p":15,"g":"r","x":6,"y":1650},{"p":15,"g":"r","x":7,"y":1620},{"p":15,"g":"r","x":8,"y":1600},{"p":15,"g":"r","x":9,"y":1540},{"p":15,"g":"r","x":10,"y":1580},{"p":15,"g":"r","x":11,"y":1580},{"p":15,"g":"r","x":12,"y":1550},{"p":15,"g":"r","x":13,"y":1900},{"p":15,"g":"r","x":14,"y":2220},{"p":15,"g":"r","x":15,"y":2250},{"p":15,"g":"r","x":16,"y":2100},{"p":15,"g":"r","x":17,"y":1950},{"p":15,"g":"r","x":18,"y":1800},{"p":15,"g":"r","x":19,"y":1700},{"p":15,"g":"r","x":20,"y":1600},{"p":15,"g":"r","x":21,"y":1500},{"p":15,"g":"r","x":22,"y":1450},{"p":15,"g":"r","x":23,"y":1420},{"p":15,"g":"r","x":24,"y":1450},{"p":15,"g":"r","x":25,"y":1480},{"p":15,"g":"r","x":26,"y":1450},{"p":15,"g":"r","x":27,"y":1400},{"p":15,"g":"r","x":28,"y":1420},{"p":15,"g":"r","x":29,"y":1380},{"p":15,"g":"r","x":30,"y":1320},{"p":15,"g":"r","x":31,"y":1380},{"p":15,"g":"r","x":32,"y":1350},{"p":15,"g":"r","x":33,"y":1400},{"p":15,"g":"r","x":34,"y":1450},{"p":15,"g":"r","x":35,"y":1450},{"p":15,"g":"r","x":36,"y":1420},{"p":15,"g":"r","x":37,"y":1400},{"p":15,"g":"r","x":38,"y":1420},{"p":15,"g":"r","x":39,"y":1450},{"p":15,"g":"r","x":40,"y":1450},{"p":15,"g":"r","x":41,"y":1500},{"p":15,"g":"r","x":42,"y":1480},{"p":15,"g":"r","x":43,"y":1500},{"p":15,"g":"r","x":44,"y":1600},{"p":15,"g":"r","x":45,"y":1800},{"p":15,"g":"r","x":46,"y":2050},{"p":15,"g":"r","x":47,"y":2400},{"p":15,"g":"r","x":48,"y":2900},{"p":15,"g":"r","x":49,"y":3000},{"p":15,"g":"r","x":50,"y":3020},{"p":15,"g":"r","x":51,"y":2800},{"p":15,"g":"r","x":52,"y":2400},{"p":15,"g":"r","x":53,"y":2050},
{"p":15,"g":"u","x":1,"y":1880},{"p":15,"g":"u","x":2,"y":1800},{"p":15,"g":"u","x":3,"y":1700},{"p":15,"g":"u","x":4,"y":1750},{"p":15,"g":"u","x":5,"y":1650},{"p":15,"g":"u","x":6,"y":1580},{"p":15,"g":"u","x":7,"y":1600},{"p":15,"g":"u","x":8,"y":1560},{"p":15,"g":"u","x":9,"y":1620},{"p":15,"g":"u","x":10,"y":1600},{"p":15,"g":"u","x":11,"y":1670},
{"p":16,"g":"a","x":1,"y":430},{"p":16,"g":"a","x":2,"y":510},{"p":16,"g":"a","x":3,"y":430},{"p":16,"g":"a","x":4,"y":500},{"p":16,"g":"a","x":5,"y":310},
{"p":16,"g":"b","x":1,"y":250},{"p":16,"g":"b","x":2,"y":230},{"p":16,"g":"b","x":3,"y":300},{"p":16,"g":"b","x":4,"y":450},{"p":16,"g":"b","x":5,"y":280},
{"p":16,"g":"r","x":1,"y":280},{"p":16,"g":"r","x":2,"y":270},{"p":16,"g":"r","x":3,"y":260},{"p":16,"g":"r","x":4,"y":320},{"p":16,"g":"r","x":5,"y":1830},{"p":16,"g":"r","x":6,"y":800}
]},
"vconcat":[
{"hconcat":[
{"data":{"name":"d"},"transform":[{"filter":"datum.p==1"}],"title":["Argentina: Buenos Aires Province","(monthly)"],"width":1300,"height":540,"mark":{"type":"line","point":{"size":160,"filled":true}},"encoding":{"x":{"field":"x","type":"quantitative","scale":{"domain":[0.3,13]},"axis":{"values":[1,6,11]}},"y":{"field":"y","type":"quantitative","scale":{"zero":false},"axis":{"values":[10000,12000,14000,16000]}},"color":{"field":"g","type":"nominal","scale":{"domain":["a","b","c","r","u"],"range":["#a6a6a6","#a6a6a6","#a6a6a6","#ff0000","#a020f0"]},"legend":null},"strokeWidth":{"field":"g","type":"ordinal","scale":{"domain":["a","b","c","r","u"],"range":[4,4,4,12,12]},"legend":null}}},
{"data":{"name":"d"},"transform":[{"filter":"datum.p==2"}],"title":["Argentina: Cordoba Province","(monthly)"],"width":1300,"height":540,"mark":{"type":"line","point":{"size":160,"filled":true}},"encoding":{"x":{"field":"x","type":"quantitative","scale":{"domain":[0.3,13]},"axis":{"values":[1,6,11]}},"y":{"field":"y","type":"quantitative","scale":{"zero":false},"axis":{"values":[2000,2500,3000,3500,4000,4500]}},"color":{"field":"g","type":"nominal","scale":{"domain":["a","b","c","r","u"],"range":["#a6a6a6","#a6a6a6","#a6a6a6","#ff0000","#a020f0"]},"legend":null},"strokeWidth":{"field":"g","type":"ordinal","scale":{"domain":["a","b","c","r","u"],"range":[4,4,4,12,12]},"legend":null}}},
{"data":{"name":"d"},"transform":[{"filter":"datum.p==3"}],"title":["Belarus: Minsk City","(monthly)"],"width":1300,"height":540,"mark":{"type":"line","point":{"size":160,"filled":true}},"encoding":{"x":{"field":"x","type":"quantitative","scale":{"domain":[0.3,13]},"axis":{"values":[1,6,11]}},"y":{"field":"y","type":"quantitative","scale":{"zero":false},"axis":{"values":[1600,2000,2400]}},"color":{"field":"g","type":"nominal","scale":{"domain":["a","b","c","r","u"],"range":["#a6a6a6","#a6a6a6","#a6a6a6","#ff0000","#a020f0"]},"legend":null},"strokeWidth":{"field":"g","type":"ordinal","scale":{"domain":["a","b","c","r","u"],"range":[4,4,4,12,12]},"legend":null}}},
{"data":{"name":"d"},"transform":[{"filter":"datum.p==4"}],"title":["Belarus: Mogilev City","(weekly)"],"width":1300,"height":540,"mark":{"type":"line","point":{"size":160,"filled":true}},"encoding":{"x":{"field":"x","type":"quantitative","scale":{"domain":[-1,55]},"axis":{"values":[1,6,11,16,21,26,31,36,41,46,51]}},"y":{"field":"y","type":"quantitative","scale":{"zero":false},"axis":{"values":[75,100,125,150]}},"color":{"field":"g","type":"nominal","scale":{"domain":["a","b","c","r","u"],"range":["#a6a6a6","#a6a6a6","#a6a6a6","#ff0000","#a020f0"]},"legend":null},"strokeWidth":{"field":"g","type":"ordinal","scale":{"domain":["a","b","c","r","u"],"range":[4,4,4,12,12]},"legend":null}}}
]},
{"hconcat":[
{"data":{"name":"d"},"transform":[{"filter":"datum.p==5"}],"title":["China: Wuhan City","(weekly)"],"width":1300,"height":540,"mark":{"type":"line","point":{"size":160,"filled":true}},"encoding":{"x":{"field":"x","type":"quantitative","scale":{"domain":[-1,55]},"axis":{"values":[1,6,11,16,21,26,31,36,41,46,51]}},"y":{"field":"y","type":"quantitative","scale":{"domain":[200,910]},"axis":{"values":[200,400,600,800],"title":"Deaths","titleFontSize":64,"titleFontWeight":"normal","titleColor":"black","titleY":700,"titlePadding":30}},"color":{"field":"g","type":"nominal","scale":{"domain":["a","b","c","r","u"],"range":["#a6a6a6","#a6a6a6","#a6a6a6","#ff0000","#a020f0"]},"legend":null},"strokeWidth":{"field":"g","type":"ordinal","scale":{"domain":["a","b","c","r","u"],"range":[4,4,4,12,12]},"legend":null}}},
{"data":{"name":"d"},"transform":[{"filter":"datum.p==6"}],"title":["India: Ahmedabad City","(monthly)"],"width":1300,"height":540,"mark":{"type":"line","point":{"size":160,"filled":true}},"encoding":{"x":{"field":"x","type":"quantitative","scale":{"domain":[0.3,13]},"axis":{"values":[1,6,11]}},"y":{"field":"y","type":"quantitative","scale":{"zero":false},"axis":{"values":[3000,4000,5000,6000,7000]}},"color":{"field":"g","type":"nominal","scale":{"domain":["a","b","c","r","u"],"range":["#a6a6a6","#a6a6a6","#a6a6a6","#ff0000","#a020f0"]},"legend":null},"strokeWidth":{"field":"g","type":"ordinal","scale":{"domain":["a","b","c","r","u"],"range":[4,4,4,12,12]},"legend":null}}},
{"data":{"name":"d"},"transform":[{"filter":"datum.p==7"}],"title":["India: Chennai City","(weekly)"],"width":1300,"height":540,"mark":{"type":"line","point":{"size":160,"filled":true}},"encoding":{"x":{"field":"x","type":"quantitative","scale":{"domain":[-1,55]},"axis":{"values":[1,6,11,16,21,26,31,36,41,46,51]}},"y":{"field":"y","type":"quantitative","scale":{"zero":false},"axis":{"values":[900,1200,1500,1800]}},"color":{"field":"g","type":"nominal","scale":{"domain":["a","b","c","r","u"],"range":["#a6a6a6","#a6a6a6","#a6a6a6","#ff0000","#a020f0"]},"legend":null},"strokeWidth":{"field":"g","type":"ordinal","scale":{"domain":["a","b","c","r","u"],"range":[4,4,4,12,12]},"legend":null}}},
{"data":{"name":"d"},"transform":[{"filter":"datum.p==8"}],"title":["India: Mumbai City","(monthly)"],"width":1300,"height":540,"mark":{"type":"line","point":{"size":160,"filled":true}},"encoding":{"x":{"field":"x","type":"quantitative","scale":{"domain":[0.3,13]},"axis":{"values":[1,6,11]}},"y":{"field":"y","type":"quantitative","scale":{"zero":false},"axis":{"values":[7500,10000,12500,15000]}},"color":{"field":"g","type":"nominal","scale":{"domain":["a","b","c","r","u"],"range":["#a6a6a6","#a6a6a6","#a6a6a6","#ff0000","#a020f0"]},"legend":null},"strokeWidth":{"field":"g","type":"ordinal","scale":{"domain":["a","b","c","r","u"],"range":[4,4,4,12,12]},"legend":null}}}
]},
{"hconcat":[
{"data":{"name":"d"},"transform":[{"filter":"datum.p==9"}],"title":["India: Nagpur City","(monthly)"],"width":1300,"height":540,"mark":{"type":"line","point":{"size":160,"filled":true}},"encoding":{"x":{"field":"x","type":"quantitative","scale":{"domain":[0.3,13]},"axis":{"values":[1,6,11]}},"y":{"field":"y","type":"quantitative","scale":{"zero":false},"axis":{"values":[2000,3000,4000]}},"color":{"field":"g","type":"nominal","scale":{"domain":["a","b","c","r","u"],"range":["#a6a6a6","#a6a6a6","#a6a6a6","#ff0000","#a020f0"]},"legend":null},"strokeWidth":{"field":"g","type":"ordinal","scale":{"domain":["a","b","c","r","u"],"range":[4,4,4,12,12]},"legend":null}}},
{"data":{"name":"d"},"transform":[{"filter":"datum.p==10"}],"title":["Indonesia: Jakarta Province","(monthly)"],"width":1300,"height":540,"mark":{"type":"line","point":{"size":160,"filled":true}},"encoding":{"x":{"field":"x","type":"quantitative","scale":{"domain":[0.3,13]},"axis":{"values":[1,6,11]}},"y":{"field":"y","type":"quantitative","scale":{"zero":false},"axis":{"values":[4000,6000,8000]}},"color":{"field":"g","type":"nominal","scale":{"domain":["a","b","c","r","u"],"range":["#a6a6a6","#a6a6a6","#a6a6a6","#ff0000","#a020f0"]},"legend":null},"strokeWidth":{"field":"g","type":"ordinal","scale":{"domain":["a","b","c","r","u"],"range":[4,4,4,12,12]},"legend":null}}},
{"data":{"name":"d"},"transform":[{"filter":"datum.p==11"}],"title":["Pakistan: Karachi City","(monthly)"],"width":1300,"height":540,"mark":{"type":"line","point":{"size":160,"filled":true}},"encoding":{"x":{"field":"x","type":"quantitative","scale":{"domain":[0.3,13]},"axis":{"values":[1,6,11]}},"y":{"field":"y","type":"quantitative","scale":{"zero":false},"axis":{"values":[2000,2500,3000,3500]}},"color":{"field":"g","type":"nominal","scale":{"domain":["a","b","c","r","u"],"range":["#a6a6a6","#a6a6a6","#a6a6a6","#ff0000","#a020f0"]},"legend":null},"strokeWidth":{"field":"g","type":"ordinal","scale":{"domain":["a","b","c","r","u"],"range":[4,4,4,12,12]},"legend":null}}},
{"data":{"name":"d"},"transform":[{"filter":"datum.p==12"}],"title":["Sudan: Khartoum State","(monthly)"],"width":1300,"height":540,"mark":{"type":"line","point":{"size":160,"filled":true}},"encoding":{"x":{"field":"x","type":"quantitative","scale":{"domain":[0.3,13]},"axis":{"values":[1,6,11]}},"y":{"field":"y","type":"quantitative","scale":{"zero":false},"axis":{"values":[500,1000,1500,2000]}},"color":{"field":"g","type":"nominal","scale":{"domain":["a","b","c","r","u"],"range":["#a6a6a6","#a6a6a6","#a6a6a6","#ff0000","#a020f0"]},"legend":null},"strokeWidth":{"field":"g","type":"ordinal","scale":{"domain":["a","b","c","r","u"],"range":[4,4,4,12,12]},"legend":null}}}
]},
{"hconcat":[
{"data":{"name":"d"},"transform":[{"filter":"datum.p==13"}],"title":["Syria: Damascus City","(monthly)"],"width":1300,"height":540,"mark":{"type":"line","point":{"size":160,"filled":true}},"encoding":{"x":{"field":"x","type":"quantitative","scale":{"domain":[0.3,13]},"axis":{"values":[1,6,11]}},"y":{"field":"y","type":"quantitative","scale":{"zero":false},"axis":{"values":[1000,2000,3000]}},"color":{"field":"g","type":"nominal","scale":{"domain":["a","b","c","r","u"],"range":["#a6a6a6","#a6a6a6","#a6a6a6","#ff0000","#a020f0"]},"legend":null},"strokeWidth":{"field":"g","type":"ordinal","scale":{"domain":["a","b","c","r","u"],"range":[4,4,4,12,12]},"legend":null}}},
{"data":{"name":"d"},"transform":[{"filter":"datum.p==14"}],"title":["Turkey: Ankara City","(weekly)"],"width":1300,"height":540,"mark":{"type":"line","point":{"size":160,"filled":true}},"encoding":{"x":{"field":"x","type":"quantitative","scale":{"domain":[-1,55]},"axis":{"values":[1,6,11,16,21,26,31,36,41,46,51],"title":"Month or Week","titleFontSize":68,"titleFontWeight":"normal","titleColor":"black","titleX":1400,"titlePadding":10}},"y":{"field":"y","type":"quantitative","scale":{"zero":false},"axis":{"values":[100,200,300,400,500]}},"color":{"field":"g","type":"nominal","scale":{"domain":["a","b","c","r","u"],"range":["#a6a6a6","#a6a6a6","#a6a6a6","#ff0000","#a020f0"]},"legend":null},"strokeWidth":{"field":"g","type":"ordinal","scale":{"domain":["a","b","c","r","u"],"range":[4,4,4,12,12]},"legend":null}}},
{"data":{"name":"d"},"transform":[{"filter":"datum.p==15"}],"title":["Turkey: Istanbul City","(weekly)"],"width":1300,"height":540,"mark":{"type":"line","point":{"size":160,"filled":true}},"encoding":{"x":{"field":"x","type":"quantitative","scale":{"domain":[-1,55]},"axis":{"values":[1,6,11,16,21,26,31,36,41,46,51]}},"y":{"field":"y","type":"quantitative","scale":{"zero":false},"axis":{"values":[1500,2000,2500,3000]}},"color":{"field":"g","type":"nominal","scale":{"domain":["a","b","c","r","u"],"range":["#a6a6a6","#a6a6a6","#a6a6a6","#ff0000","#a020f0"]},"legend":null},"strokeWidth":{"field":"g","type":"ordinal","scale":{"domain":["a","b","c","r","u"],"range":[4,4,4,12,12]},"legend":null}}},
{"data":{"name":"d"},"transform":[{"filter":"datum.p==16"}],"title":["Yemen: Aden Governorate","(monthly)"],"width":1300,"height":540,"mark":{"type":"line","point":{"size":160,"filled":true}},"encoding":{"x":{"field":"x","type":"quantitative","scale":{"domain":[0.3,13]},"axis":{"values":[1,6,11],"title":"Source: github.com/akarlinsky/world_mortality/tree/main/local_mortality","titleFontSize":54,"titleFontWeight":"normal","titleColor":"black","titleAnchor":"end","titlePadding":80}},"y":{"field":"y","type":"quantitative","scale":{"zero":false},"axis":{"values":[500,1000,1500]}},"color":{"field":"g","type":"nominal","scale":{"domain":["a","b","c","r","u"],"range":["#a6a6a6","#a6a6a6","#a6a6a6","#ff0000","#a020f0"]},"legend":null},"strokeWidth":{"field":"g","type":"ordinal","scale":{"domain":["a","b","c","r","u"],"range":[4,4,4,12,12]},"legend":null}}}
]}
]}
